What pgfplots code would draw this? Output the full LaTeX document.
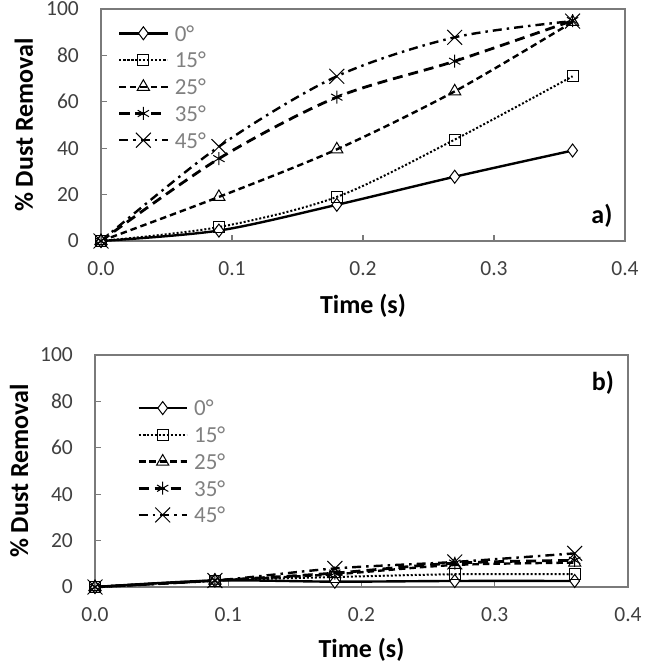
\documentclass[border=0pt]{standalone}
\usepackage{pgfplots}
\pgfplotsset{compat=1.18}
\usepackage{fontspec}
\setmainfont{Carlito}
\definecolor{tickgray}{HTML}{404040}
\definecolor{leggray}{HTML}{808080}
\definecolor{framegray}{HTML}{7A7A7A}

\pgfplotsset{
 dustaxis/.style={
  scale only axis, clip=false,
  xmin=0,xmax=0.4,ymin=0,ymax=100,
  xtick={0,0.1,0.2,0.3,0.4}, ytick={0,20,40,60,80,100},
  tick pos=left,
  tick align=inside, major tick length=6pt,
  axis line style={framegray, line width=1.2pt},
  every tick/.style={framegray, line width=1.2pt},
  tick label style={font=\fontsize{21.5}{24}\selectfont, text=tickgray, inner sep=0pt},
  /pgf/number format/assume math mode=true,
  xticklabel style={/pgf/number format/.cd, fixed, fixed zerofill, precision=1, /tikz/.cd, anchor=center, yshift=-28pt},
  yticklabel style={anchor=east, xshift=-22pt},
  xlabel={Time (s)}, ylabel={\% Dust Removal},
  label style={font=\bfseries\fontsize{26}{30}\selectfont, text=black},
  legend style={draw=none, fill=none, font=\fontsize{23}{26}\selectfont, text=leggray,
     row sep=11pt, column sep=6pt, inner sep=0pt, nodes={inner sep=0pt, text depth=0pt}, anchor=north west},
  legend cell align=left,
  legend image code/.code={\draw[mark repeat=2,mark phase=2] plot coordinates {(0pt,0pt) (24pt,0pt) (48pt,0pt)};},
 },
 s0/.style={black, line width=2.4pt, smooth, mark=diamond*, mark size=6.5pt, mark options={solid, fill=white, draw=black, line width=1pt}},
 s15/.style={black, line width=2pt, smooth, dash pattern=on 2pt off 2pt, mark=square, mark size=5.5pt, mark options={solid, draw=black, line width=1pt}},
 s25/.style={black, line width=2.4pt, smooth, dash pattern=on 6.5pt off 4pt, mark=triangle, mark size=7pt, mark options={solid, draw=black, line width=1pt}},
 s35/.style={black, line width=2.8pt, smooth, dash pattern=on 10pt off 6pt, mark=asterisk, mark size=6.5pt, mark options={solid, draw=black, line width=1pt}},
 s45/.style={black, line width=2.4pt, smooth, dash pattern=on 9pt off 5pt on 2.5pt off 5pt, mark=x, mark size=10.5pt, mark options={solid, draw=black, line width=1pt}},
}

\begin{document}
\begin{tikzpicture}
\useasboundingbox (0,0) rectangle (645pt,-672pt);

% ---------- a) ----------
\begin{axis}[dustaxis,
  at={(101pt,-241pt)}, anchor=south west, width=524pt, height=232pt,
  ylabel style={at={(axis description cs:-0.147,0.5)}, anchor=center},
  xlabel style={at={(axis description cs:0.5,0)}, anchor=center, yshift=-65pt},
  legend style={at={(axis description cs:0.032,0.93)}},
]
\addplot[s0] coordinates {(0,0) (0.09,4.5) (0.18,15.6) (0.27,27.7) (0.36,39)};
\addplot[s15] coordinates {(0,0) (0.09,6) (0.18,19) (0.27,43.7) (0.36,71)};
\addplot[s25] coordinates {(0,0) (0.09,19) (0.18,39.5) (0.27,64.5) (0.36,94.4)};
\addplot[s35] coordinates {(0,0) (0.09,35.5) (0.18,62) (0.27,77.5) (0.36,95)};
\addplot[s45] coordinates {(0,0) (0.09,40.7) (0.18,71) (0.27,87.8) (0.36,94.8)};
\legend{0°,15°,25°,35°,45°}
\node[font=\bfseries\fontsize{26}{30}\selectfont] at (rel axis cs:0.956,0.108) {a)};
\end{axis}

% ---------- b) ----------
\begin{axis}[dustaxis,
  at={(95pt,-587pt)}, anchor=south west, width=533pt, height=232pt,
  ylabel style={at={(axis description cs:-0.1426,0.5)}, anchor=center},
  xlabel style={at={(axis description cs:0.5,0)}, anchor=center, yshift=-63pt},
  legend style={at={(axis description cs:0.079,0.806)}},
]
\addplot[s0] coordinates {(0,0) (0.09,2.8) (0.18,2.3) (0.27,2.6) (0.36,2.6)};
\addplot[s15] coordinates {(0,0) (0.09,2.8) (0.18,4.3) (0.27,5.5) (0.36,5.5)};
\addplot[s25] coordinates {(0,0) (0.09,2.8) (0.18,5.5) (0.27,9.5) (0.36,10.5)};
\addplot[s35] coordinates {(0,0) (0.09,2.8) (0.18,6) (0.27,10.3) (0.36,11.5)};
\addplot[s45] coordinates {(0,0) (0.09,2.8) (0.18,8) (0.27,10.8) (0.36,14.5)};
\legend{0°,15°,25°,35°,45°}
\node[font=\bfseries\fontsize{26}{30}\selectfont] at (rel axis cs:0.953,0.879) {b)};
\end{axis}
\end{tikzpicture}
\end{document}
